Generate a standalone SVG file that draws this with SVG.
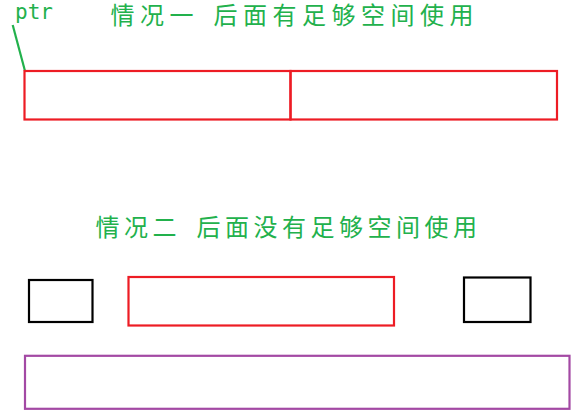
<svg xmlns="http://www.w3.org/2000/svg" width="582" height="415" viewBox="0 0 582 415">
<style>
.t{font-family:"Noto Sans CJK SC","Noto Sans CJK JP",sans-serif;font-size:24px;fill:#22b14c}
.p{font-family:"DejaVu Sans Mono","Liberation Mono",monospace;font-size:21px;fill:#22b14c}
.r{fill:none;stroke:#ed1c24;stroke-width:2.2}
.k{fill:none;stroke:#000;stroke-width:2.2}
.v{fill:none;stroke:#a349a4;stroke-width:2.2}
</style>
<rect width="582" height="415" fill="#fff"/>
<g id="title1">
<text class="t" y="24" x="110.5 140 169.5">情况一</text>
<text class="t" y="24" x="213.5 243 272.5 302 331.5 361 390.5 420 449.5">后面有足够空间使用</text>
</g>
<g id="ptr"><text class="p" x="15" y="19">ptr</text></g>
<g id="connectors"><line x1="12.7" y1="25" x2="25" y2="71" stroke="#22b14c" stroke-width="2.2"/></g>
<g id="block1"><rect class="r" x="24.5" y="71" width="266" height="48.5"/></g>
<g id="block2"><rect class="r" x="290.5" y="71" width="266.5" height="48.5"/></g>
<g id="title2">
<text class="t" y="235.5" x="95.5 124 152.5">情况二</text>
<text class="t" y="235.5" x="196.5 225 253.5 282 310.5 339 367.5 396 424.5 453">后面没有足够空间使用</text>
</g>
<g id="used-left"><rect class="k" x="29" y="280" width="63.5" height="42"/></g>
<g id="block-mid"><rect class="r" x="128.5" y="277" width="265.5" height="48.5"/></g>
<g id="used-right"><rect class="k" x="464" y="277.5" width="66.5" height="44.5"/></g>
<g id="new-block"><rect class="v" x="25" y="355.8" width="544.5" height="53"/></g>
</svg>
